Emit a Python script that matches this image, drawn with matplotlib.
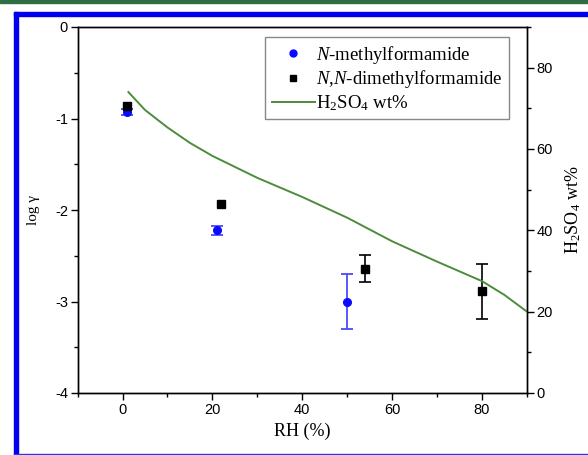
import matplotlib
matplotlib.use("Agg")
import matplotlib.pyplot as plt
from matplotlib.patches import Rectangle
from matplotlib.lines import Line2D
from matplotlib.ticker import MultipleLocator

# N-methylformamide
rh_nmf = [1, 21, 50]
logg_nmf = [-0.93, -2.22, -3.0]
err_nmf = [0.03, 0.05, 0.3]

# N,N-dimethylformamide
rh_dmf = [1, 22, 54, 80]
logg_dmf = [-0.86, -1.93, -2.64, -2.89]
err_dmf = [0.0, 0.0, 0.15, 0.3]

# H2SO4 wt% vs RH
rh_acid = [1.3, 5, 10, 15, 20, 30, 40, 50, 60, 70, 80, 85, 90]
wt_acid = [74, 69.6, 65.3, 61.5, 58.3, 52.9, 48.2, 43.1, 37.3, 32.3, 27.5, 24.1, 20]

serif = "Liberation Serif"
plt.rcParams["mathtext.fontset"] = "custom"
plt.rcParams["mathtext.rm"] = serif
plt.rcParams["mathtext.it"] = serif + ":italic"
plt.rcParams["axes.unicode_minus"] = False

W, H = 588, 455
fig = plt.figure(figsize=(W / 100, H / 100), dpi=100)

# page decoration: green rule + blue frame
fig.patches.append(Rectangle((0, 1 - 3 / H), 1, 3 / H, transform=fig.transFigure,
                             color="#2f6e45", zorder=0))
fig.patches.append(Rectangle((14 / W, 1 - 16 / H), 1, 4 / H, transform=fig.transFigure,
                             color="#0000ee", zorder=0))
fig.patches.append(Rectangle((14 / W, 0), 4 / W, 1 - 12 / H, transform=fig.transFigure,
                             color="#0000ee", zorder=0))
fig.patches.append(Rectangle((14 / W, 0), 1, 1.5 / H, transform=fig.transFigure,
                             color="#3030ff", zorder=0))

ax = fig.add_axes([77.6 / W, 1 - 393 / H, (527 - 77.6) / W, (393 - 27) / H])
ax2 = ax.twinx()

tickfont = "Liberation Sans"

ax.errorbar(rh_nmf, logg_nmf, yerr=err_nmf, fmt="o", color="#0a0aff", ecolor="#4a4aff",
            markersize=5.5, capsize=4, elinewidth=1.3, capthick=1.3, zorder=3)
# only draw bars where an error was given
idx = [i for i, e in enumerate(err_dmf) if e > 0]
ax.errorbar([rh_dmf[i] for i in idx], [logg_dmf[i] for i in idx],
            yerr=[err_dmf[i] for i in idx], fmt="none", ecolor="black",
            capsize=4, elinewidth=1.2, capthick=1.2, zorder=3)
ax.plot(rh_dmf, logg_dmf, "s", color="black", markersize=5.5, zorder=4)
l3, = ax2.plot(rh_acid, wt_acid, color="#4c8c3c", lw=1.4)

ax.set_xlim(-10, 90)
ax.set_ylim(-4, 0)
ax2.set_ylim(0, 90)

ax.xaxis.set_major_locator(MultipleLocator(20))
ax.xaxis.set_minor_locator(MultipleLocator(10))
ax.yaxis.set_major_locator(MultipleLocator(1))
ax.yaxis.set_minor_locator(MultipleLocator(0.5))
ax2.yaxis.set_major_locator(MultipleLocator(20))
ax2.yaxis.set_minor_locator(MultipleLocator(10))

for a in (ax, ax2):
    a.tick_params(which="major", direction="out", length=5, width=1, labelsize=10.5, pad=2)
    a.tick_params(which="minor", direction="out", length=3, width=1)
    for lab in a.get_xticklabels() + a.get_yticklabels():
        lab.set_family(tickfont)
    for s in a.spines.values():
        s.set_linewidth(1)
ax.tick_params(axis="x", which="both", top=False)

ax.set_xlabel("RH (%)", family=serif, fontsize=13, labelpad=4)
ax.set_ylabel("log \u03b3", family=serif, fontsize=11, labelpad=11)
ax2.set_ylabel("H$_2$SO$_4$ wt%", family=serif, fontsize=13, labelpad=7)

h1 = Line2D([], [], ls="none", marker="o", color="#0a0aff", markersize=5)
h2 = Line2D([], [], ls="none", marker="s", color="black", markersize=5)
ax2.legend([h1, h2, l3],
           ["$\\it{N}$-methylformamide", "$\\it{N}$,$\\it{N}$-dimethylformamide", "H$_2$SO$_4$ wt%"],
           loc="upper left", bbox_to_anchor=(265 / W, 1 - 37 / H), bbox_transform=fig.transFigure,
           prop={"family": serif, "size": 13.5}, frameon=True, fancybox=False,
           edgecolor="#888888", framealpha=1, borderaxespad=0, handlelength=2.3,
           handletextpad=0.05, labelspacing=0.15, borderpad=0.35)

fig.savefig("out.png", dpi=100)
